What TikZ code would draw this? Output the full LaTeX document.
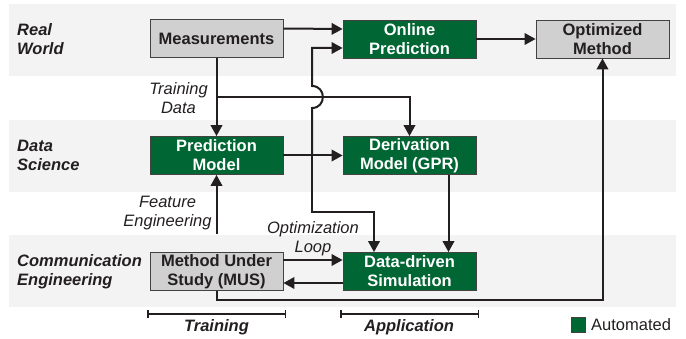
\documentclass[tikz,border=0pt]{standalone}
\usepackage{fontspec}
\setmainfont{Liberation Sans}
\usetikzlibrary{arrows.meta}
\definecolor{band}{HTML}{F3F3F3}
\definecolor{autogreen}{HTML}{006633}
\definecolor{boxgray}{HTML}{D0D0D0}
\definecolor{ink}{HTML}{231F20}
\tikzset{
 lane/.style={fill=band, draw=none},
 box/.style={draw=ink!85, line width=0.8pt, minimum width=133pt, minimum height=38pt, inner sep=0pt, align=center, font=\fontsize{16.5}{19}\selectfont\bfseries, text=ink},
 graybox/.style={box, fill=boxgray},
 greenbox/.style={box, fill=autogreen, text=white},
 conn/.style={draw=ink, line width=2pt},
 arr/.style={conn, -{Triangle[length=11pt,width=11.5pt]}},
 lanelabel/.style={font=\fontsize{16.5}{19}\selectfont\bfseries\itshape, align=left, anchor=west, text=ink, inner sep=0pt},
 note/.style={font=\fontsize{16.5}{19}\selectfont\itshape, align=center, text=ink, inner sep=0pt},
 phase/.style={font=\fontsize{16.5}{19}\selectfont\bfseries\itshape, text=ink, inner sep=0pt},
 interval/.style={draw=ink, line width=2pt, {Bar[width=8pt,line width=1.5pt]}-{Bar[width=8pt,line width=1.5pt]}},
}
\begin{document}
\begin{tikzpicture}[x=1pt,y=-1pt]
\useasboundingbox (0,0) rectangle (686,339);
% lanes
\fill[lane] (9,4) rectangle (676,76);
\fill[lane] (9,120) rectangle (676,192);
\fill[lane] (9,235) rectangle (676,307);
% lane labels
\node[lanelabel] (lreal) at (17,39) {Real\\World};
\node[lanelabel] (ldata) at (17,155) {Data\\Science};
\node[lanelabel] (lcomm) at (17,272) {Communication\\Engineering};
% boxes
\node[graybox] (meas) at (216.5,38.5) {Measurements};
\node[greenbox] (op) at (409.5,39) {Online\\Prediction};
\node[graybox] (om) at (602.5,39) {Optimized\\Method};
\node[greenbox] (pm) at (216.5,155.5) {Prediction\\Model};
\node[greenbox] (dm) at (409.5,155.5) {Derivation\\Model (GPR)};
\node[graybox] (mus) at (216.5,271.5) {Method Under\\Study (MUS)};
\node[greenbox] (ds) at (409.5,271.5) {Data-driven\\Simulation};
% notes
\node[note] (ntd) at (178.5,98) {Training\\Data};
\node[note] (nfe) at (167.5,213) {Feature\\Engineering};
\node[note] (nol) at (313,239) {Optimization\\Loop};
% connectors
\draw[arr] ([yshift=10pt]meas.east) -- ([yshift=10pt]op.west);
\draw[arr] (op.east) -- (om.west);
\draw[arr] (meas.south) -- (pm.north);
\coordinate (td) at (216.5,97);
\draw[arr] (td) -| (dm.north);
\draw[arr] (pm.east) -- (dm.west);
\coordinate (j) at (312,155.5);
\draw[arr] (j) -- (312,108) .. controls (326.5,108) and (326.5,86) .. (312,86) |- ([yshift=-9pt]op.west);
\draw[arr] (j) -- (312,212) -| ([xshift=-35.5pt]ds.north);
\draw[arr] ([xshift=39pt]dm.south) -- ([xshift=39pt]ds.north);
\draw[arr] ([yshift=11.5pt]mus.east) -- ([yshift=11.5pt]ds.west);
\draw[arr] ([yshift=-11.5pt]ds.west) -- ([yshift=-11.5pt]mus.east);
\draw[arr, shorten <=18pt] (mus.north) -- (pm.south);
\draw[arr] (mus.south) -- ++(0,9) -| (om.south);
% phases
\coordinate (tra) at (147,314);
\coordinate (trb) at (286,314);
\coordinate (apa) at (340,314);
\coordinate (apb) at (479,314);
\draw[interval] (tra) -- (trb);
\draw[interval] (apa) -- (apb);
\node[phase] (ptr) at (216.5,327) {Training};
\node[phase] (pap) at (409,327) {Application};
% legend
\node[draw=ink!85, line width=0.8pt, fill=autogreen, minimum width=14pt, minimum height=15pt, inner sep=0pt] (leg) at (578,324.5) {};
\node[font=\fontsize{16.5}{19}\selectfont, text=ink, anchor=west, inner sep=0pt] (legt) at (591,324.5) {Automated};
\end{tikzpicture}
\end{document}
